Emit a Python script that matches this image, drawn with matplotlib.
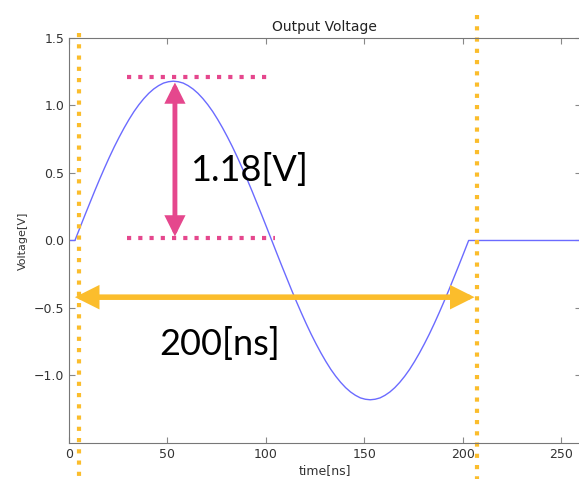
import matplotlib.pyplot as plt

# output voltage (time in ns, voltage in V), 2.5 ns steps
time_ns = [0, 3.0, 5.5, 8.0, 10.5, 13.0, 15.5, 18.0, 20.5, 23.0, 25.5, 28.0, 30.5, 33.0,
           35.5, 38.0, 40.5, 43.0, 45.5, 48.0, 50.5, 53.0, 55.5, 58.0, 60.5, 63.0, 65.5,
           68.0, 70.5, 73.0, 75.5, 78.0, 80.5, 83.0, 85.5, 88.0, 90.5, 93.0, 95.5, 98.0,
           100.5, 103.0, 105.5, 108.0, 110.5, 113.0, 115.5, 118.0, 120.5, 123.0, 125.5,
           128.0, 130.5, 133.0, 135.5, 138.0, 140.5, 143.0, 145.5, 148.0, 150.5, 153.0,
           155.5, 158.0, 160.5, 163.0, 165.5, 168.0, 170.5, 173.0, 175.5, 178.0, 180.5,
           183.0, 185.5, 188.0, 190.5, 193.0, 195.5, 198.0, 200.5, 203.0, 260]
voltage = [0.0, 0.0, 0.093, 0.185, 0.275, 0.365, 0.452, 0.536, 0.617, 0.694, 0.766, 0.834,
           0.897, 0.955, 1.006, 1.051, 1.090, 1.122, 1.147, 1.166, 1.176, 1.18,
           1.176, 1.166, 1.147, 1.122, 1.090, 1.051, 1.006, 0.955, 0.897, 0.834, 0.766,
           0.694, 0.617, 0.536, 0.452, 0.365, 0.275, 0.185, 0.093, 0.0,
           -0.093, -0.185, -0.275, -0.365, -0.452, -0.536, -0.617, -0.694, -0.766, -0.834,
           -0.897, -0.955, -1.006, -1.051, -1.090, -1.122, -1.147, -1.166, -1.176, -1.18,
           -1.176, -1.166, -1.147, -1.122, -1.090, -1.051, -1.006, -0.955, -0.897, -0.834,
           -0.766, -0.694, -0.617, -0.536, -0.452, -0.365, -0.275, -0.185, -0.093, 0.0, 0.0]

amp_label = '1.18[V]'
period_label = '200[ns]'
xticks = [0, 50, 100, 150, 200, 250]
yticks = [-1.0, -0.5, 0.0, 0.5, 1.0, 1.5]

orange = '#fbbd2c'
pink = '#e5478d'

fig = plt.figure(figsize=(5.79, 4.79), dpi=100)
ax = fig.add_axes([0.1192, 0.0752, 0.884, 0.8455])
ax.plot(time_ns, voltage, color='#6b6bff', lw=1.0)
ax.set_xlim(0, 260)
ax.set_ylim(-1.5, 1.5)
ax.set_xticks(xticks)
ax.set_yticks(yticks)
ax.tick_params(direction='in', top=True, right=True, labelsize=9, color='#888888',
               labelcolor='#333333', length=4)
for s in ax.spines.values():
    s.set_color('#777777')
ax.set_xticklabels([str(v) for v in xticks])
ax.set_yticklabels(['\u22121.0', '\u22120.5', '0.0', '0.5', '1.0', '1.5'])
ax.set_title('Output Voltage', fontsize=10, color='#222222', pad=5)
ax.set_xlabel('time[ns]', fontsize=9, color='#333333', labelpad=2)
ax.set_ylabel('Voltage[V]', fontsize=8, color='#333333', labelpad=4)

# orange dotted markers for one period
dot = dict(lw=3, dashes=(1, 1.7), dash_capstyle='butt', clip_on=False)
ax.plot([5, 5], [1.54, -1.85], color=orange, **dot)
ax.plot([207, 207], [1.67, -1.85], color=orange, **dot)
ax.annotate('', xy=(206, -0.42), xytext=(3, -0.42),
            arrowprops=dict(arrowstyle='<|-|>', color=orange, lw=4, mutation_scale=28,
                            shrinkA=0, shrinkB=0, joinstyle='miter'),
            annotation_clip=False)
ax.text(46, -0.77, period_label, fontsize=26, family='Lato', ha='left', va='center',
        color='black')

# pink amplitude markers
ax.plot([29.4, 100.5], [1.21, 1.21], color=pink, **dot)
ax.plot([29.4, 104.6], [0.02, 0.02], color=pink, **dot)
ax.annotate('', xy=(53.8, 1.17), xytext=(53.8, 0.03),
            arrowprops=dict(arrowstyle='<|-|>', color=pink, lw=3.5, mutation_scale=24,
                            shrinkA=0, shrinkB=0, joinstyle='miter'),
            annotation_clip=False)
ax.text(61.4, 0.52, amp_label, fontsize=26, family='Lato', ha='left', va='center',
        color='black')

fig.savefig('out.png', dpi=100)
